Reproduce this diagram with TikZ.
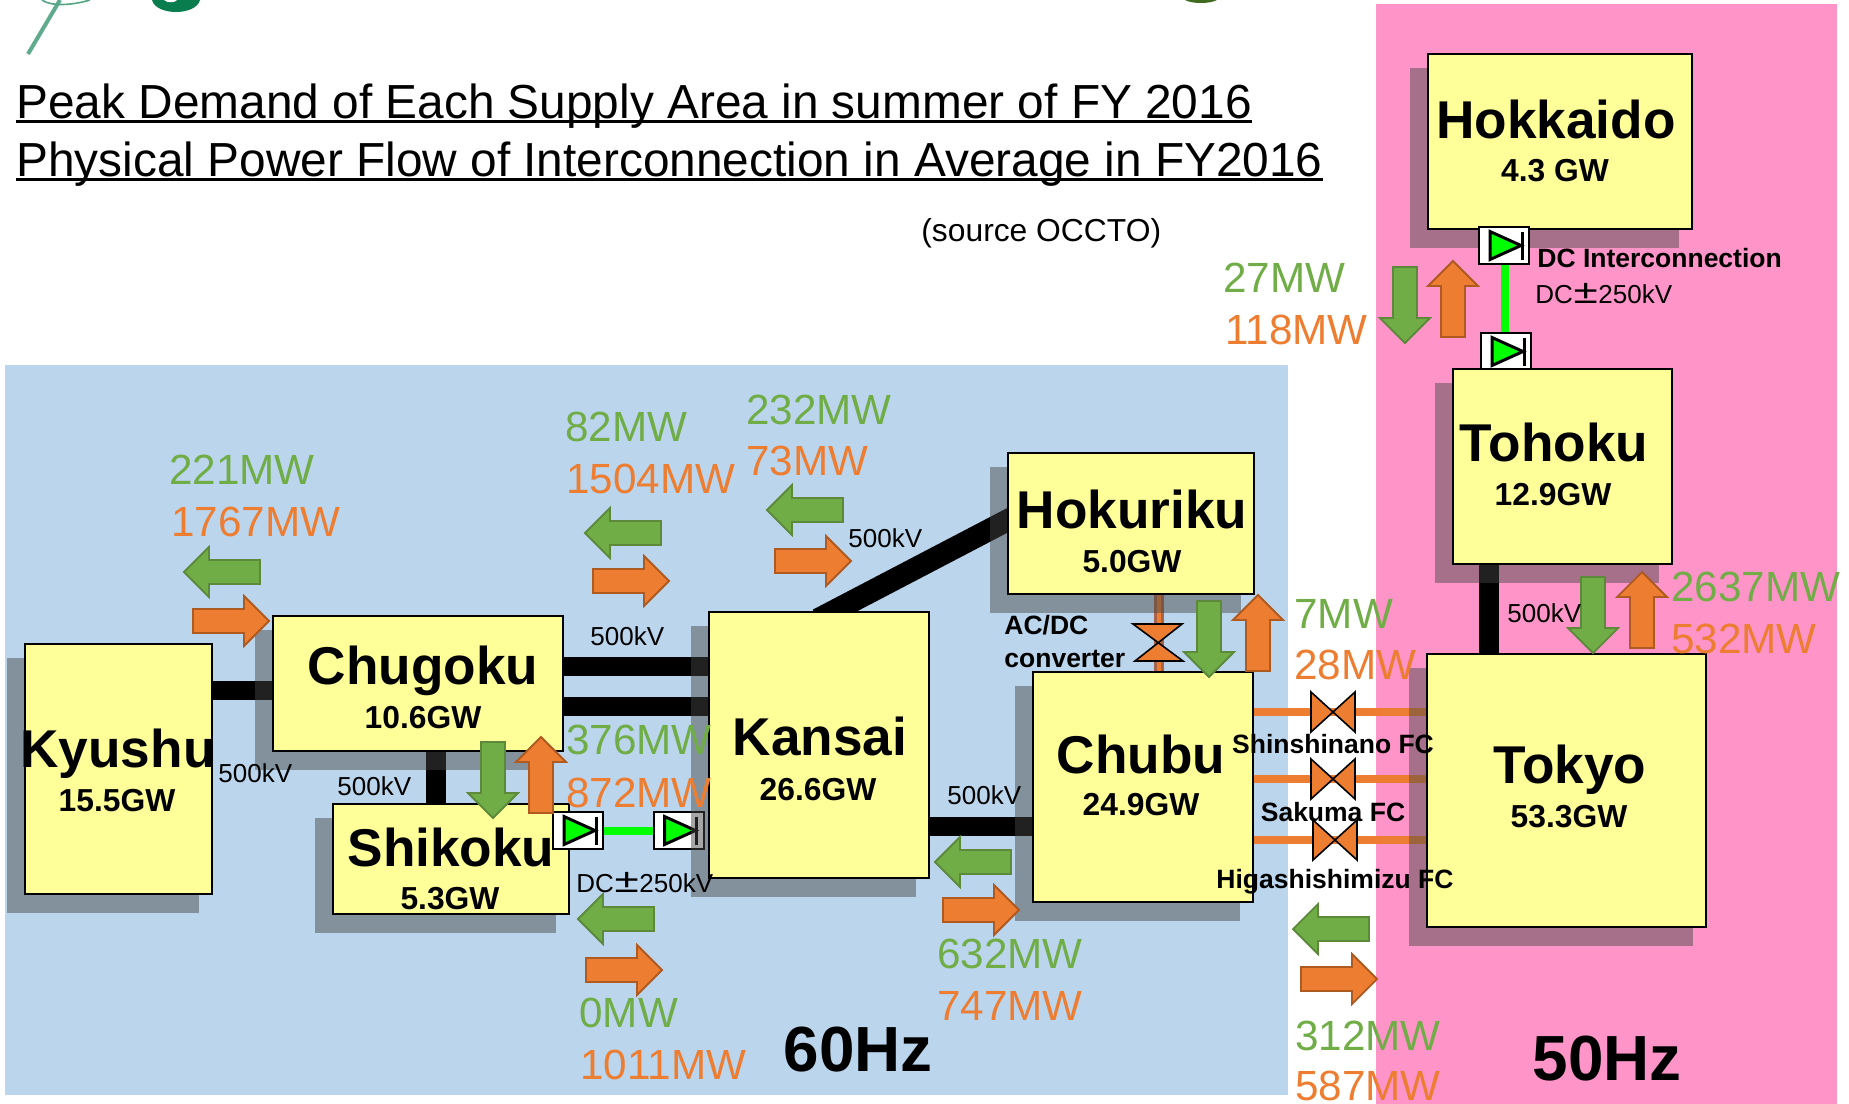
\documentclass[tikz,border=0pt]{standalone}
\usepackage{fontspec}
\usepackage{graphicx}
\setmainfont{Liberation Sans}
\usetikzlibrary{calc}
\definecolor{regionblue}{HTML}{BBD5EC}
\definecolor{regionpink}{HTML}{FF94C8}
\definecolor{boxyellow}{HTML}{FFFF99}
\definecolor{flowgreen}{HTML}{70AD47}
\definecolor{flowgreenedge}{HTML}{5C8A3A}
\definecolor{floworange}{HTML}{ED7D31}
\definecolor{floworangeedge}{HTML}{AE5A21}
\definecolor{acdcedge}{HTML}{A8644A}
\definecolor{shadowgray}{HTML}{474747}
\definecolor{dcgreen}{HTML}{00FF00}
\definecolor{logogreen}{HTML}{0A7D4F}
\definecolor{logoolive}{HTML}{3F6B1F}
\pgfdeclarelayer{lines}
\pgfdeclarelayer{under}
\pgfdeclarelayer{shadows}
\pgfdeclarelayer{top}
\pgfsetlayers{lines,under,shadows,main,top}
\newcommand\fs[1]{\fontsize{#1pt}{#1pt}\selectfont}
\newsavebox\ulinebox
\newcommand\ulinetext[1]{\sbox\ulinebox{#1}\rlap{\rule[-0.105em]{\wd\ulinebox}{0.065em}}\usebox\ulinebox}
\newcommand\widepm{\makebox[0.98em]{\scalebox{1.7}[1.3]{±}}}
\tikzset{
  x=0.5pt,y=-0.5pt,
  regionbox/.style={draw=black,line width=0.8pt,fill=boxyellow,inner sep=0pt},
  titletext/.style={anchor=base west,inner sep=0pt,font=\fs{23.9}},
  nametext/.style={anchor=base,inner sep=0pt,font=\fs{26.6}\bfseries},
  gwtext/.style={anchor=base,inner sep=0pt,font=\fs{15.9}\bfseries},
  hztext/.style={anchor=base,inner sep=0pt,font=\fs{31.9}\bfseries},
  greenflow/.style={anchor=base west,inner sep=0pt,font=\fs{21.1},text=flowgreen},
  orangeflow/.style={anchor=base west,inner sep=0pt,font=\fs{21.1},text=floworange},
  kvtext/.style={anchor=base west,inner sep=0pt,font=\fs{13}},
  smallbold/.style={anchor=base,inner sep=0pt,font=\fs{13.25}\bfseries},
  smallboldleft/.style={anchor=base west,inner sep=0pt,font=\fs{13.25}\bfseries},
  acline/.style={line width=9.5pt,draw=black},
  fcline/.style={line width=4pt,draw=floworange},
  dcline/.style={line width=4pt,draw=dcgreen},
  bowtie/.style={fill=floworange,draw=black,line width=0.8pt,line join=miter},
  diodebox/.style={draw=black,line width=1pt,fill=white,inner sep=0pt,minimum width=25pt,minimum height=18.5pt},
  greenarrow/.style={fill=flowgreen,draw=flowgreenedge,line width=0.9pt},
  orangearrow/.style={fill=floworange,draw=floworangeedge,line width=0.9pt},
}
% name, x1, y1, x2, y2
\newcommand\regionnode[5]{%
  \pgfmathsetmacro\bw{(#4-#2)*0.5}\pgfmathsetmacro\bh{(#5-#3)*0.5}%
  \node[regionbox,minimum width=\bw pt,minimum height=\bh pt] (#1) at ({(#2+#4)/2},{(#3+#5)/2}) {};%
  \begin{pgfonlayer}{shadows}%
    \fill[shadowgray,opacity=0.48] ($(#1.north west)+(-17,15)$) rectangle ($(#1.south east)+(-14,18)$);%
  \end{pgfonlayer}}
% name, cx, cy
\newcommand\diodenode[3]{%
  \node[diodebox] (#1) at (#2,#3) {};%
  \draw[fill=dcgreen,draw=black,line width=1.5pt,line join=miter] ($(#1.center)+(-14,-14)$) -- ($(#1.center)+(17,0)$) -- ($(#1.center)+(-14,14)$) -- cycle;%
  \draw[black,line width=1.5pt] ($(#1.center)+(18,-14)$) -- ($(#1.center)+(18,14)$);}
% cx, cy, angle, style
\newcommand\flowarrow[4]{%
  \begin{scope}[shift={(#1,#2)},rotate=#3]%
    \draw[#4,line join=miter] (-38,-12) -- (13,-12) -- (13,-25) -- (38,0) -- (13,25) -- (13,12) -- (-38,12) -- cycle;%
  \end{scope}}
% cx, cy: horizontal-wing converter
\newcommand\fcbowtie[2]{%
  \draw[bowtie] (#1-22,#2-20) -- (#1+22,#2+20) -- (#1+22,#2-20) -- (#1-22,#2+20) -- cycle;}
\begin{document}
\begin{tikzpicture}
\useasboundingbox (0,0) rectangle (1849,1104);
\begin{pgfonlayer}{lines}
  % backgrounds
  \fill[regionpink] (1376,4) rectangle (1837,1104);
  \fill[regionblue] (5,365) rectangle (1288,1095);
  % cropped logo pieces at the top edge
  \draw[logogreen!65,line width=2pt] (28,54) -- (60,0);
  \draw[logogreen!70,line width=0.8pt] (42,0) .. controls (50,6) and (70,6) .. (90,0);
  \fill[logogreen] (152,0) .. controls (156,16) and (196,16) .. (200,0) -- cycle;
  \fill[white] (164,0) .. controls (167,3) and (175,3) .. (177,0) -- cycle;
  \fill[logoolive] (1185,0) .. controls (1192,4) and (1210,4) .. (1217,0) -- cycle;
\end{pgfonlayer}

% region boxes
\regionnode{hokkaido}{1428}{54}{1692}{229}
\regionnode{tohoku}{1453}{369}{1672}{564}
\regionnode{tokyo}{1427}{654}{1706}{927}
\regionnode{hokuriku}{1008}{453}{1254}{594}
\regionnode{chubu}{1033}{672}{1253}{902}
\regionnode{kansai}{709}{612}{929}{878}
\regionnode{chugoku}{273}{616}{563}{751}
\regionnode{shikoku}{333}{804}{569}{914}
\regionnode{kyushu}{25}{644}{212}{894}

\coordinate (yKC) at (0,690);
\coordinate (yCK1) at (0,666);
\coordinate (yCK2) at (0,706);
\coordinate (xCS) at (436,0);
\coordinate (yKCh) at (0,826);
\coordinate (xTT) at (1489,0);
\coordinate (xAD) at (1159,0);
\coordinate (xDC) at (1505,0);
\coordinate (yF1) at (0,712);
\coordinate (yF2) at (0,779);
\coordinate (yF3) at (0,840);
\coordinate (pKH1) at (832,612);
\coordinate (pKH2) at (1008,520);

\begin{pgfonlayer}{lines}
  \draw[acline] (kyushu.east |- yKC) -- (chugoku.west |- yKC);
  \draw[acline] (chugoku.east |- yCK1) -- (kansai.west |- yCK1);
  \draw[acline] (chugoku.east |- yCK2) -- (kansai.west |- yCK2);
  \draw[acline,line width=10pt] (chugoku.south -| xCS) -- (shikoku.north -| xCS);
  \draw[acline] (kansai.east |- yKCh) -- (chubu.west |- yKCh);
  \draw[acline,line width=10pt] (tohoku.south -| xTT) -- (tokyo.north -| xTT);
  \draw[acline,line width=11pt,shorten <=-8pt,shorten >=-8pt] (pKH1) -- (pKH2);
  \draw[draw=acdcedge,line width=4.6pt] (hokuriku.south -| xAD) -- (chubu.north -| xAD);
  \draw[draw=floworange,line width=2.4pt] (hokuriku.south -| xAD) -- (chubu.north -| xAD);
  \draw[fcline] (chubu.east |- yF1) -- (tokyo.west |- yF1);
  \draw[fcline] (chubu.east |- yF2) -- (tokyo.west |- yF2);
  \draw[fcline] (chubu.east |- yF3) -- (tokyo.west |- yF3);
\end{pgfonlayer}

% converters
\begin{pgfonlayer}{under}
  \diodenode{dcKansai}{678.5}{830.5}
  \diodenode{dcTohoku}{1506}{351.5}
\end{pgfonlayer}
\begin{pgfonlayer}{top}
  \diodenode{dcShikoku}{578}{830.5}
  \diodenode{dcHokkaido}{1504}{245.5}
\end{pgfonlayer}
\begin{pgfonlayer}{lines}
  \draw[dcline] (dcShikoku.east) -- (dcKansai.west);
  \draw[dcline] (dcHokkaido.south -| xDC) -- (dcTohoku.north -| xDC);
\end{pgfonlayer}
\begin{pgfonlayer}{top}
  \fcbowtie{1333}{712}
  \fcbowtie{1333}{779}
  \fcbowtie{1335}{840}
  \draw[bowtie] (1133,624) -- (1182,624) -- (1135,661) -- (1183,661) -- cycle;
  % flow arrows
  \flowarrow{1405}{305}{-90}{greenarrow}
  \flowarrow{1453}{299}{90}{orangearrow}
  \flowarrow{1209}{639}{-90}{greenarrow}
  \flowarrow{1258}{633}{90}{orangearrow}
  \flowarrow{493}{780}{-90}{greenarrow}
  \flowarrow{541}{775}{90}{orangearrow}
  \flowarrow{616}{919}{180}{greenarrow}
  \flowarrow{624}{970}{0}{orangearrow}
  \flowarrow{1593}{615}{-90}{greenarrow}
  \flowarrow{1642}{610}{90}{orangearrow}
  \flowarrow{222}{572}{180}{greenarrow}
  \flowarrow{231}{621}{0}{orangearrow}
  \flowarrow{623}{533}{180}{greenarrow}
  \flowarrow{631}{581}{0}{orangearrow}
  \flowarrow{805}{510}{180}{greenarrow}
  \flowarrow{813}{561}{0}{orangearrow}
  \flowarrow{973}{862}{180}{greenarrow}
  \flowarrow{981}{910}{0}{orangearrow}
  \flowarrow{1331}{929}{180}{greenarrow}
  \flowarrow{1339}{979}{0}{orangearrow}

  % titles
  \node[titletext] (title1) at (16,118) {\ulinetext{Peak Demand of Each Supply Area in summer of FY 2016}};
  \node[titletext] (title2) at (16,176) {\ulinetext{Physical Power Flow of Interconnection in Average in FY2016}};
  \node[anchor=base west,inner sep=0pt,font=\fs{15.9}] (source) at (921,241) {(source OCCTO)};

  % region names
  \node[nametext] (nHokkaido) at (1556,138) {Hokkaido};
  \node[gwtext] (gHokkaido) at (1555,181) {4.3 GW};
  \node[nametext] (nTohoku) at (1554,461) {Tohoku};
  \node[gwtext] (gTohoku) at (1553,505) {12.9GW};
  \node[nametext] (nHokuriku) at (1132,528) {Hokuriku};
  \node[gwtext] (gHokuriku) at (1132,572) {5.0GW};
  \node[nametext] (nChugoku) at (423,684) {Chugoku};
  \node[gwtext] (gChugoku) at (423,728) {10.6GW};
  \node[nametext] (nKyushu) at (118,767) {Kyushu};
  \node[gwtext] (gKyushu) at (117,811) {15.5GW};
  \node[nametext] (nKansai) at (820,755) {Kansai};
  \node[gwtext] (gKansai) at (818,800) {26.6GW};
  \node[nametext] (nChubu) at (1141,773) {Chubu};
  \node[gwtext] (gChubu) at (1141,815) {24.9GW};
  \node[nametext] (nTokyo) at (1570,783) {Tokyo};
  \node[gwtext] (gTokyo) at (1569,827) {53.3GW};
  \node[nametext] (nShikoku) at (451,866) {Shikoku};
  \node[gwtext] (gShikoku) at (450,909) {5.3GW};
  \node[hztext] (hz60) at (858,1071) {60Hz};
  \node[hztext] (hz50) at (1607,1080) {50Hz};

  % flow values
  \node[greenflow] (f1a) at (169,484) {221MW};
  \node[orangeflow] (f1b) at (171,536) {1767MW};
  \node[greenflow] (f2a) at (565,441) {82MW};
  \node[orangeflow] (f2b) at (566,493) {1504MW};
  \node[greenflow] (f3a) at (746,424) {232MW};
  \node[orangeflow] (f3b) at (746,475) {73MW};
  \node[greenflow] (f4a) at (1223,292) {27MW};
  \node[orangeflow] (f4b) at (1225,344) {118MW};
  \node[greenflow] (f5a) at (1294,628) {7MW};
  \node[orangeflow] (f5b) at (1294,679) {28MW};
  \node[greenflow] (f6a) at (1671,601) {2637MW};
  \node[orangeflow] (f6b) at (1671,653) {532MW};
  \node[greenflow] (f7a) at (566,754) {376MW};
  \node[orangeflow] (f7b) at (566,807) {872MW};
  \node[greenflow] (f8a) at (579,1027) {0MW};
  \node[orangeflow] (f8b) at (580,1079) {1011MW};
  \node[greenflow] (f9a) at (937,968) {632MW};
  \node[orangeflow] (f9b) at (937,1020) {747MW};
  \node[greenflow] (f10a) at (1295,1050) {312MW};
  \node[orangeflow] (f10b) at (1295,1100) {587MW};

  % voltages
  \node[kvtext] (kv1) at (590,645) {500kV};
  \node[kvtext] (kv2) at (848,547) {500kV};
  \node[kvtext] (kv3) at (1507,622) {500kV};
  \node[kvtext] (kv4) at (218,782) {500kV};
  \node[kvtext] (kv5) at (337,795) {500kV};
  \node[kvtext] (kv6) at (947,804) {500kV};
  \node[kvtext] (dc1) at (576,892) {DC\widepm 250kV};
  \node[kvtext] (dc2) at (1535,303) {DC\widepm 250kV};

  % converter labels
  \node[smallboldleft] (dcLabel) at (1537,267) {DC Interconnection};
  \node[smallboldleft] (ac1) at (1004,634) {AC/DC};
  \node[smallboldleft] (ac2) at (1004,667) {converter};
  \node[smallbold] (fc1) at (1333,753) {Shinshinano FC};
  \node[smallbold] (fc2) at (1333,821) {Sakuma FC};
  \node[smallbold] (fc3) at (1335,888) {Higashishimizu FC};
\end{pgfonlayer}
\end{tikzpicture}
\end{document}
